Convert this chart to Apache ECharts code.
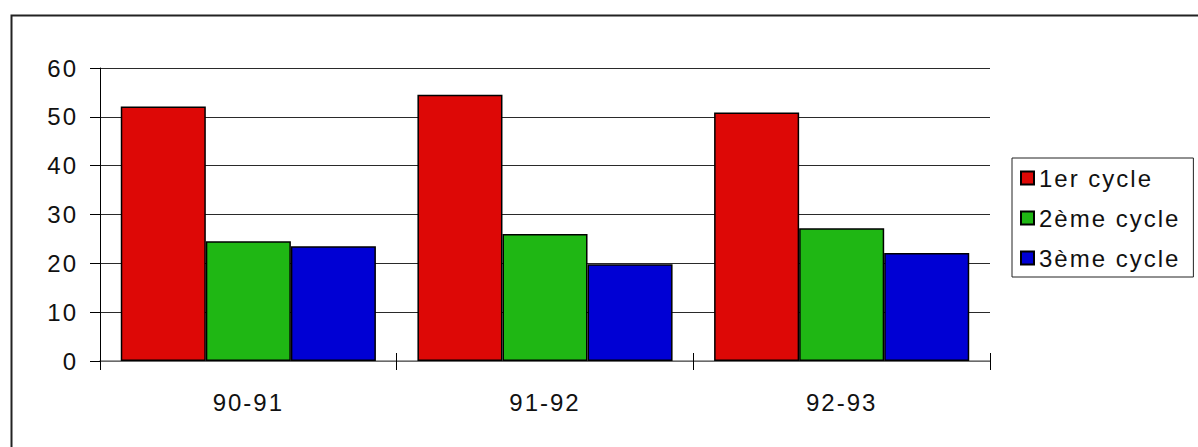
<!DOCTYPE html>
<html>
<head>
<meta charset="utf-8">
<script src="https://cdn.jsdelivr.net/npm/echarts@6/dist/echarts.min.js"></script>
<style>
	html, body { margin: 0; padding: 0; background: #ffffff; }
	#main { width: 1198px; height: 447px; }
	/* the old chart spaces its letters wide */
	#main svg text { letter-spacing: 2px; }
</style>
</head>
<body>
<div id="main"></div>
<script>
	var categories = ['90-91', '91-92', '92-93'];
	var seriesNames = ['1er cycle', '2ème cycle', '3ème cycle'];
	var cycle1 = [52.1, 54.5, 50.9];
	var cycle2 = [24.5, 26.0, 27.2];
	var cycle3 = [23.5, 19.8, 22.1];
	var yTicks = [0, 10, 20, 30, 40, 50, 60];

	var colors = ['#dd0806', '#1fb714', '#0000d4'];
	var fontName = '"Liberation Sans", Arial, sans-serif';

	function makeBar(name, data, color) {
		return {
			name: name,
			type: 'bar',
			xAxisIndex: 0,
			barGap: '0%',
			barCategoryGap: '14%',
			data: data,
			itemStyle: {
				color: color,
				borderColor: '#000000',
				borderWidth: 1.5
			}
		};
	}

	var mychart = echarts.init(document.getElementById('main'), null, {renderer: 'svg'});
	var option = {
		animation: false,
		backgroundColor: '#ffffff',
		textStyle: {fontFamily: fontName, color: '#111111'},
		grid: {left: 100, right: 208, top: 68, bottom: 86},
		legend: {
			orient: 'vertical',
			left: 1012,
			top: 158,
			padding: [8, 33, 7, 8],
			itemGap: 16,
			itemWidth: 13,
			itemHeight: 13,
			icon: 'rect',
			borderColor: '#222222',
			borderWidth: 1,
			borderRadius: 0,
			textStyle: {fontSize: 24, color: '#111111', fontFamily: fontName},
			data: seriesNames
		},
		xAxis: [
			{
				type: 'category',
				data: categories,
				position: 'bottom',
				axisLine: {show: true, lineStyle: {color: '#808080', width: 1.5}},
				axisTick: {show: true, length: 9, lineStyle: {color: '#000000', width: 1}},
				axisLabel: {fontSize: 24, color: '#111111', margin: 29, fontFamily: fontName},
				splitLine: {show: false}
			},
			{
				type: 'category',
				data: categories,
				position: 'bottom',
				axisLine: {show: false},
				axisTick: {show: true, inside: true, length: 8, lineStyle: {color: '#000000', width: 1}},
				axisLabel: {show: false},
				splitLine: {show: false}
			}
		],
		yAxis: {
			type: 'value',
			min: yTicks[0],
			max: yTicks[yTicks.length - 1],
			interval: yTicks[1] - yTicks[0],
			axisLine: {show: true, lineStyle: {color: '#000000', width: 1}},
			axisTick: {show: true, length: 10, lineStyle: {color: '#000000', width: 1}},
			axisLabel: {fontSize: 24, color: '#111111', margin: 22, fontFamily: fontName},
			splitLine: {show: true, lineStyle: {color: '#2a2a2a', width: 1}}
		},
		graphic: [
			{
				type: 'rect',
				left: 9,
				top: 13,
				shape: {width: 1300, height: 500},
				style: {fill: 'none', stroke: '#222222', lineWidth: 2},
				silent: true,
				z: -1
			}
		],
		series: [
			makeBar(seriesNames[0], cycle1, colors[0]),
			makeBar(seriesNames[1], cycle2, colors[1]),
			makeBar(seriesNames[2], cycle3, colors[2])
		]
	};
	mychart.setOption(option);
</script>
</body>
</html>
